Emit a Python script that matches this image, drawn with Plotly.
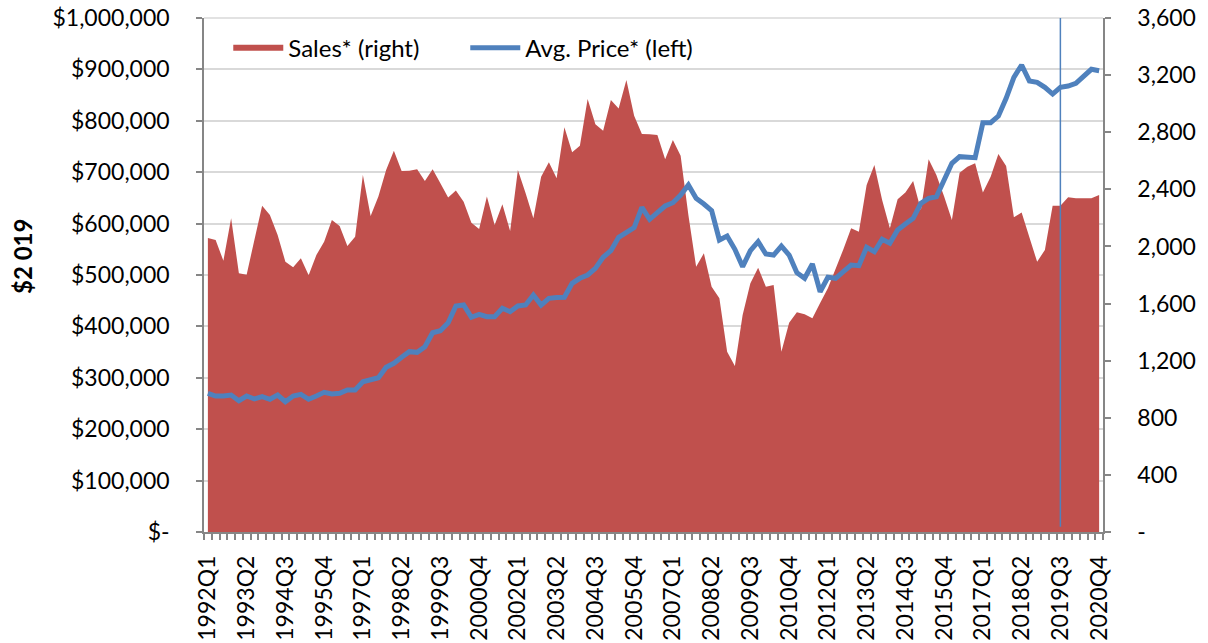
import plotly.graph_objects as go

quarters = [f"{y}Q{q}" for y in range(1992, 2021) for q in range(1, 5)]

sales = [2059, 2045, 1900, 2197, 1812, 1802, 2045, 2285, 2220, 2080, 1893, 1854, 1917, 1798, 1940,
         2033, 2185, 2143, 2003, 2068, 2500, 2213, 2349, 2535, 2671, 2528, 2531, 2540, 2458, 2540,
         2442, 2342, 2391, 2313, 2166, 2122, 2349, 2150, 2295, 2108, 2535,
         2372, 2197, 2489, 2589, 2477, 2834, 2659, 2706, 3033, 2856, 2811, 3026, 2967, 3166, 2916,
         2788, 2785, 2781, 2610, 2746, 2636, 2220, 1858, 1952, 1718, 1637, 1263, 1163, 1520, 1742,
         1851, 1718, 1730, 1263, 1466, 1539, 1525, 1497,
         1604, 1707, 1844, 1980, 2127, 2103, 2430, 2570, 2325, 2127, 2330, 2377, 2458, 2255, 2610,
         2500, 2349, 2185, 2517, 2559, 2582, 2377, 2489, 2648, 2563, 2204, 2237, 2064, 1893, 1975,
         2285, 2285, 2344, 2337, 2337, 2337, 2360]

avg_price = [269800, 264600, 264600, 266500, 255500, 264600, 258800, 263300, 258200, 266500,
             253500, 264600, 267900, 258200, 264600, 271800, 268500, 269800, 276300, 276300,
             292400, 295700, 300200, 320400, 328200, 339800, 350800, 349600, 360500, 387700,
             391600, 407200, 439700, 441600, 417700, 423500, 418900, 418900, 435200, 428600, 439700,
             441600, 461100, 441600, 454600, 456200, 456600, 483800, 493600, 500000, 513000,
             534400, 547300, 573300, 582300, 592100, 631700, 608400, 621300, 634200, 640700,
             655600, 675100, 649200, 638100, 625100, 568100, 575900, 549900, 516200, 547300,
             564800, 540800, 538900, 556400, 538900, 504500, 493600, 521400,
             467500, 495500, 493600, 506400, 519400, 518100, 553900, 545300, 569400, 561700,
             587500, 599200, 610300, 639500, 649200, 652300, 684800, 717300, 730200, 728200,
             728200, 796300, 796300, 809300, 843800, 884600, 908500, 877400, 874900, 865200,
             852100, 865200, 867700, 872900, 887100, 900200, 897500]

x_tick_labels = quarters[::5]
left_tickvals = [i * 100000 for i in range(11)]
left_ticktext = ["$-"] + [f"${v:,}" for v in left_tickvals[1:]]
right_tickvals = [i * 400 for i in range(10)]
right_ticktext = ["-"] + [f"{v:,}" for v in right_tickvals[1:]]
marker_quarter = "2019Q3"

RED = "#C0504D"
BLUE = "#4F81BD"
AXIS = "#868686"
GRID = "#D9D9D9"
FONT = "Lato"

fig = go.Figure()
fig.add_trace(go.Scatter(
    x=quarters, y=sales, name="Sales* (right)", mode="none",
    fill="tozeroy", fillcolor=RED, xaxis="x", yaxis="y",
))
fig.add_trace(go.Scatter(
    x=quarters, y=avg_price, name="Avg. Price* (left)", mode="lines",
    line=dict(color=BLUE, width=5), xaxis="x2", yaxis="y2",
))

n = len(quarters)
fig.update_layout(
    width=1208, height=643,
    margin=dict(l=204, r=105, t=18, b=111, autoexpand=False),
    paper_bgcolor="white", plot_bgcolor="white",
    font=dict(family=FONT, size=23, color="black"),
    showlegend=True,
    legend=dict(orientation="h", x=0.027, y=0.985, xanchor="left", yanchor="top",
                font=dict(size=24), bgcolor="rgba(0,0,0,0)", entrywidth=172,
                itemwidth=50),
    xaxis=dict(type="category", categoryorder="array", categoryarray=quarters,
               range=[-0.5, n - 0.5], tickson="boundaries", dtick=1,
               ticks="outside", ticklen=6, tickwidth=1.5, tickcolor=AXIS,
               showticklabels=False, showline=True, linecolor=AXIS, linewidth=1.5,
               showgrid=False, zeroline=False, automargin=False),
    xaxis2=dict(type="category", categoryorder="array", categoryarray=quarters,
                overlaying="x", anchor="y", side="bottom",
                range=[-0.5, n - 0.5], tickmode="array", tickvals=x_tick_labels,
                ticktext=x_tick_labels, tickangle=-90, ticks="", ticklabelstandoff=18,
                ticklabeloverflow="allow",
                showline=False, showgrid=False, zeroline=False, automargin=False),
    yaxis=dict(side="right", range=[0, 3600], tickmode="array",
               tickvals=right_tickvals, ticktext=right_ticktext,
               ticks="outside", ticklen=6, tickwidth=1.5, tickcolor=AXIS,
               ticklabelstandoff=22, ticklabeloverflow="allow",
               showline=True, linecolor=AXIS, linewidth=1.5,
               showgrid=False, zeroline=False, automargin=False),
    yaxis2=dict(side="left", overlaying="y", range=[0, 1000000], tickmode="array",
                tickvals=left_tickvals, ticktext=left_ticktext,
                ticks="outside", ticklen=6, tickwidth=1.5, tickcolor=AXIS,
                ticklabelstandoff=22, ticklabeloverflow="allow",
                showline=True, linecolor=AXIS, linewidth=1.5,
                showgrid=True, gridcolor=GRID, gridwidth=1.5, zeroline=False,
                automargin=False),
    shapes=[
        dict(type="line", xref="paper", yref="paper", x0=0, x1=1, y0=1, y1=1,
             line=dict(color=GRID, width=1.5), layer="below"),
        dict(type="line", xref="x", yref="paper",
             x0=quarters.index(marker_quarter), x1=quarters.index(marker_quarter),
             y0=0.01, y1=1, line=dict(color=BLUE, width=1.5), layer="above"),
    ],
    annotations=[dict(text="<b>$2 019</b>", xref="paper", yref="paper",
                      x=(22 - 204) / 899, y=(532 - 257) / 514, textangle=-90,
                      showarrow=False, font=dict(size=24, family=FONT),
                      xanchor="center", yanchor="middle")],
)

fig.write_html("out.html", config={"displayModeBar": False},
               post_script="document.body.style.margin='0';")
